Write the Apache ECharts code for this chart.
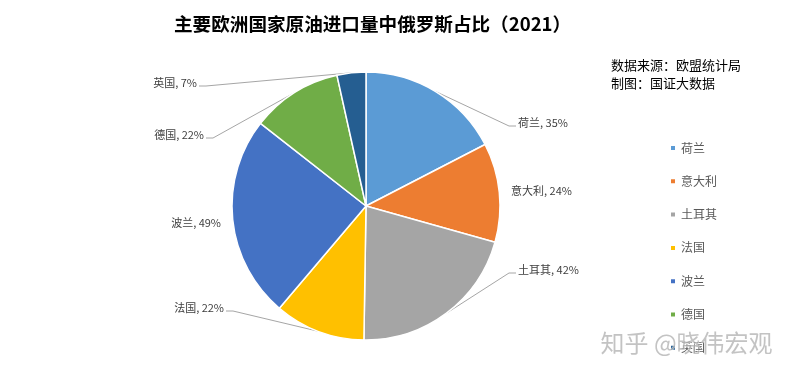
<!DOCTYPE html>
<html><head><meta charset="utf-8">
<script src="https://cdn.jsdelivr.net/npm/echarts@6/dist/echarts.min.js"></script>
<style>html,body{margin:0;padding:0;background:#fff}#c{width:791px;height:378px}</style>
</head><body><div id="c"></div>
<script>
const categories = ['荷兰','意大利','土耳其','法国','波兰','德国','英国'];
const shares = [35,24,42,22,49,22,7];
const titleText = '主要欧洲国家原油进口量中俄罗斯占比（2021）';
const sourceLines = ['数据来源：欧盟统计局','制图：国证大数据'];
const watermark = '知乎 @晓伟宏观';

const colors = ['#5B9BD5','#ED7D31','#A5A5A5','#FFC000','#4472C4','#70AD47','#255E91'];
const labelPlacement = [
  {x:518,y:123,align:'left', line:true},
  {x:511,y:191,align:'left', line:false},
  {x:518,y:270,align:'left', line:true},
  {x:224,y:308,align:'right',line:true},
  {x:221,y:223,align:'right',line:false},
  {x:204,y:135,align:'right',line:true},
  {x:197,y:83, align:'right',line:true}
];
const FONT = '"Noto Sans CJK SC","Noto Sans",sans-serif';

const chart = echarts.init(document.getElementById('c'), null, {renderer:'canvas'});
chart.setOption({
  animation:false,
  backgroundColor:'#fff',
  color:colors,
  title:{text:titleText,left:169,top:10,textStyle:{fontFamily:FONT,fontSize:18.6,fontWeight:'bold',color:'#000'}},
  legend:{
    data:categories,orient:'vertical',left:664,top:137,icon:'rect',
    itemWidth:6,itemHeight:6,itemGap:21.3,
    textStyle:{fontFamily:FONT,fontSize:12,color:'#595959'}
  },
  graphic:[
    {type:'text',left:611,top:59,style:{text:sourceLines[0],font:'13px '+FONT,fill:'#000'}},
    {type:'text',left:611,top:77,style:{text:sourceLines[1],font:'13px '+FONT,fill:'#000'}},
    {type:'text',left:600,top:330,z:100,style:{text:watermark,font:'24px '+FONT,fill:'rgba(170,170,170,0.7)',stroke:'rgba(255,255,255,0.6)',lineWidth:1}}
  ],
  series:[{
    type:'pie',
    center:[366,206],
    radius:134,
    startAngle:90,
    clockwise:true,
    avoidLabelOverlap:false,
    itemStyle:{borderColor:'#fff',borderWidth:1.5},
    label:{show:true,position:'outside',formatter:'{b}, {c}%',fontFamily:FONT,fontSize:11,color:'#404040'},
    labelLine:{show:true,length:10,length2:10,smooth:false,lineStyle:{color:'#A6A6A6',width:1}},
    labelLayout:function(p){
      const L = labelPlacement[p.dataIndex];
      const out = {x:L.x,y:L.y,align:L.align,verticalAlign:'middle'};
      if (L.line && p.labelLinePoints) {
        const s = p.labelLinePoints[0];
        const dir = L.align==='left' ? -1 : 1;
        const ly = L.y + 3;
        out.labelLinePoints = [s,[L.x+dir*9,ly],[L.x+dir*2,ly]];
      }
      return out;
    },
    emphasis:{disabled:true},
    data:categories.map((n,i)=>({name:n,value:shares[i],labelLine:{show:labelPlacement[i].line}}))
  }]
});
</script></body></html>
